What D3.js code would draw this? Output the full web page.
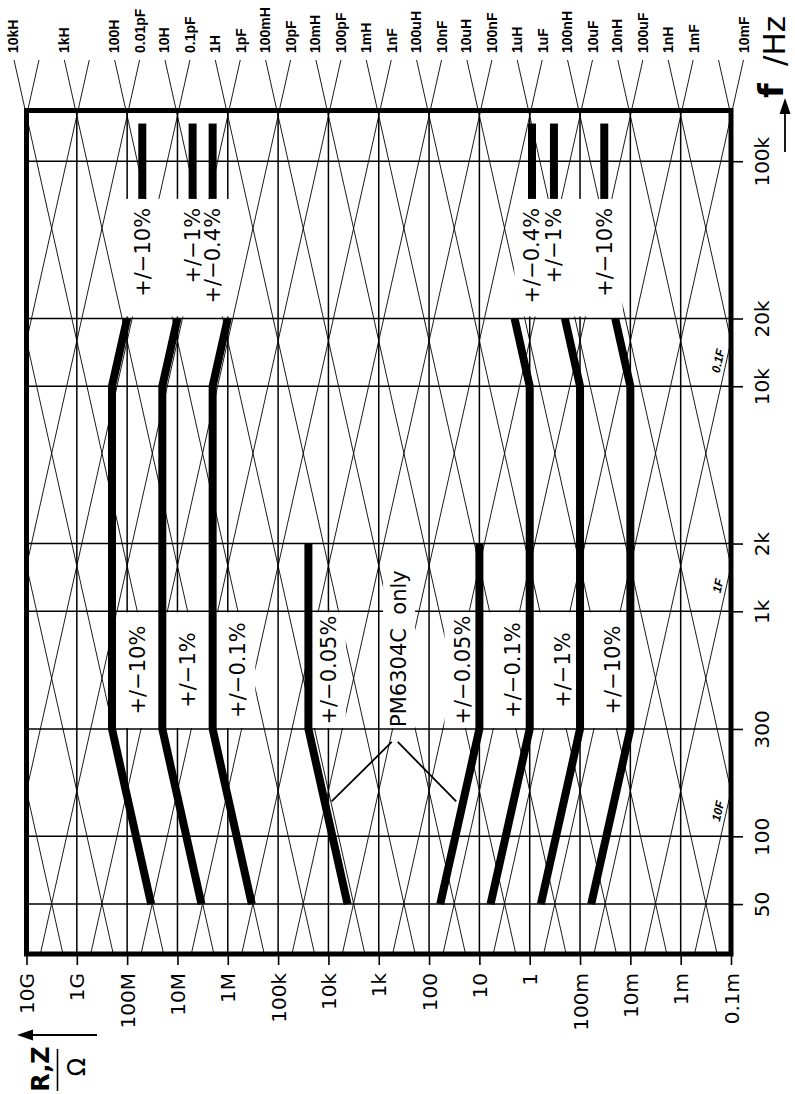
<!DOCTYPE html>
<html>
<head>
<meta charset="utf-8">
<script src="https://cdn.jsdelivr.net/npm/d3@7"></script>
<style>
  body { margin: 0; background: #fff; }
  svg { display: block; font-family: "DejaVu Sans", sans-serif; }
</style>
</head>
<body>
<svg id="chart" width="795" height="1094"></svg>
<script>
// impedance axis (ohm), horizontal, 10G on the left
var zTicks = [1e10, 1e9, 1e8, 1e7, 1e6, 1e5, 1e4, 1e3, 1e2, 1e1, 1, 1e-1, 1e-2, 1e-3, 1e-4];
var zLabels = ["10G", "1G", "100M", "10M", "1M", "100k", "10k", "1k", "100", "10", "1", "100m", "10m", "1m", "0.1m"];

// frequency axis (Hz), vertical, 100k at the top
var fTicks = [50, 100, 300, 1e3, 2e3, 1e4, 2e4, 1e5];
var fLabels = ["50", "100", "300", "1k", "2k", "10k", "20k", "100k"];

// L and C reference lines (H, F)
var gridInductances = [1e7, 1e6, 1e5, 1e4, 1e3, 1e2, 10, 1, 0.1, 1e-2, 1e-3, 1e-4, 1e-5, 1e-6, 1e-7, 1e-8, 1e-9, 1e-10];
var gridCapacitances = [1e-16, 1e-15, 1e-14, 1e-13, 1e-12, 1e-11, 1e-10, 1e-9, 1e-8, 1e-7, 1e-6, 1e-5, 1e-4, 1e-3, 1e-2, 0.1, 1, 10];

var indValues = [1e4, 1e3, 1e2, 10, 1, 0.1, 1e-2, 1e-3, 1e-4, 1e-5, 1e-6, 1e-7, 1e-8, 1e-9];
var indLabels = ["10kH", "1kH", "100H", "10H", "1H", "100mH", "10mH", "1mH", "100uH", "10uH", "1uH", "100nH", "10nH", "1nH"];
var capValues = [1e-14, 1e-13, 1e-12, 1e-11, 1e-10, 1e-9, 1e-8, 1e-7, 1e-6, 1e-5, 1e-4, 1e-3, 1e-2];
var capLabels = ["0.01pF", "0.1pF", "1pF", "10pF", "100pF", "1nF", "10nF", "100nF", "1uF", "10uF", "100uF", "1mF", "10mF"];
var sideCapValues = [0.1, 1, 10];
var sideCapLabels = ["0.1F", "1F", "10F"];

// accuracy limits, [frequency Hz, impedance ohm]
var upper10 = [[50, 33.3e6], [300, 200e6], [1e4, 200e6], [2e4, 100e6]];
var upper1 = [[50, 3.33e6], [300, 20e6], [1e4, 20e6], [2e4, 10e6]];
var upper01 = [[50, 333e3], [300, 2e6], [1e4, 2e6], [2e4, 1e6]];
var upper005 = [[50, 4.17e3], [300, 25e3], [2e3, 25e3]];
var lower005 = [[50, 60], [300, 10], [2e3, 10]];
var lower01 = [[50, 6], [300, 1], [1e4, 1], [2e4, 2]];
var lower1 = [[50, 0.6], [300, 0.1], [1e4, 0.1], [2e4, 0.2]];
var lower10 = [[50, 0.06], [300, 0.01], [1e4, 0.01], [2e4, 0.02]];
var bandLines = [upper10, upper1, upper01, upper005, lower005, lower01, lower1, lower10];

// 100 kHz spot limits
var spotFreq = [68e3, 147e3];
var spotOhms = [50e6, 5e6, 2e6, 0.9, 0.33, 0.033];
var spotLabels = ["+/\u221210%", "+/\u22121%", "+/\u22120.4%", "+/\u22120.4%", "+/\u22121%", "+/\u221210%"];

// labels between 300 Hz and 1 kHz
var midOhms = [63e6, 6.3e6, 630e3, 10e3, 400, 22, 2.2, 0.22, 0.022];
var midLabels = ["+/\u221210%", "+/\u22121%", "+/\u22120.1%", "+/\u22120.05%", "PM6304C  only",
                 "+/\u22120.05%", "+/\u22120.1%", "+/\u22121%", "+/\u221210%"];
var midFreq = 548;
var leaderTargets = [[143, 11.9e3], [143, 21]];

var plot = {left: 26.5, right: 731, top: 110.5, bottom: 954};
var fMin = 30, fMax = 168000;
var twoPi = 2 * Math.PI;
var stripTop = 60;

var xScale = d3.scaleLog().domain([1e10, 1e-4]).range([plot.left, plot.right]);
var yScale = d3.scaleLog().domain([fMin, fMax]).range([plot.bottom, plot.top]);

var svg = d3.select('#chart');

var clip = svg.append('defs').append('clipPath').attr('id', 'diagClip');
clip.append('rect').attr('x', plot.left).attr('y', plot.top)
    .attr('width', plot.right - plot.left).attr('height', plot.bottom - plot.top);
clip.append('rect').attr('x', 0).attr('y', stripTop)
    .attr('width', 745).attr('height', plot.top - stripTop + 1);

var gridLayer = svg.append('g');
var diagLayer = svg.append('g').attr('clip-path', 'url(#diagClip)');
var boxLayer = svg.append('g');
var markLayer = svg.append('g');
var labelLayer = svg.append('g');
var frameLayer = svg.append('g');

// grid
gridLayer.selectAll('.vgrid')
    .data(zTicks.slice(1, -1))
    .enter().append('line')
    .attr('x1', d => xScale(d)).attr('x2', d => xScale(d))
    .attr('y1', plot.top).attr('y2', plot.bottom)
    .attr('stroke', '#000').attr('stroke-width', 1.5);

gridLayer.selectAll('.hgrid')
    .data(fTicks)
    .enter().append('line')
    .attr('x1', plot.left).attr('x2', plot.right)
    .attr('y1', d => yScale(d)).attr('y2', d => yScale(d))
    .attr('stroke', '#000').attr('stroke-width', 1.5);

// L and C lines
var fLow = yScale.invert(plot.bottom + 5);
var fHigh = yScale.invert(stripTop);

diagLayer.selectAll('.ind')
    .data(gridInductances)
    .enter().append('line')
    .attr('x1', L => xScale(twoPi * fLow * L)).attr('y1', yScale(fLow))
    .attr('x2', L => xScale(twoPi * fHigh * L)).attr('y2', yScale(fHigh))
    .attr('stroke', '#000').attr('stroke-width', 0.9);

diagLayer.selectAll('.cap')
    .data(gridCapacitances)
    .enter().append('line')
    .attr('x1', C => xScale(1 / (twoPi * fLow * C))).attr('y1', yScale(fLow))
    .attr('x2', C => xScale(1 / (twoPi * fHigh * C))).attr('y2', yScale(fHigh))
    .attr('stroke', '#000').attr('stroke-width', 0.9);

// top labels of L / C lines
var fLab = yScale.invert(stripTop - 2);
var topLab = svg.append('g')
    .attr('font-size', 14)
    .attr('font-weight', 'bold')
    .attr('font-family', '"Liberation Sans", Arial, sans-serif');
indValues.forEach(function(L, i) {
  topLab.append('text')
      .attr('transform', 'translate(' + xScale(twoPi * fLab * L) + ',' + (stripTop - 7) + ') rotate(-90)')
      .attr('dy', '0.35em')
      .text(indLabels[i]);
});
capValues.forEach(function(C, i) {
  topLab.append('text')
      .attr('transform', 'translate(' + xScale(1 / (twoPi * fLab * C)) + ',' + (stripTop - 7) + ') rotate(-90)')
      .attr('dy', '0.35em')
      .text(capLabels[i]);
});

// side labels for large capacitors
var capAngle = Math.atan2(yScale(1e4) - yScale(1e3), xScale(1 / (twoPi * 1e4)) - xScale(1 / (twoPi * 1e3))) * 180 / Math.PI;
sideCapValues.forEach(function(C, i) {
  var fe = 1 / (twoPi * 1e-4 * C);
  labelLayer.append('text')
      .attr('transform', 'translate(' + (plot.right - 13) + ',' + (yScale(fe) + 20) + ') rotate(' + capAngle + ')')
      .attr('text-anchor', 'middle')
      .attr('dy', '0.35em')
      .attr('font-size', 12)
      .attr('font-weight', 'bold')
      .attr('font-style', 'italic')
      .attr('font-family', '"Liberation Sans", Arial, sans-serif')
      .text(sideCapLabels[i]);
});

// accuracy boundaries
var bandLine = d3.line()
    .x(d => xScale(d[1]))
    .y(d => yScale(d[0]));

markLayer.selectAll('.band')
    .data(bandLines)
    .enter().append('path')
    .attr('d', bandLine)
    .attr('fill', 'none')
    .attr('stroke', '#000')
    .attr('stroke-width', 8)
    .attr('stroke-linejoin', 'round');

markLayer.selectAll('.spot')
    .data(spotOhms)
    .enter().append('line')
    .attr('x1', d => xScale(d)).attr('x2', d => xScale(d))
    .attr('y1', yScale(spotFreq[0])).attr('y2', yScale(spotFreq[1]))
    .attr('stroke', '#000').attr('stroke-width', 8);

// labels
var spotText = labelLayer.selectAll('.spotLabel')
    .data(spotLabels)
    .enter().append('text')
    .attr('transform', (d, i) => 'translate(' + xScale(spotOhms[i]) + ',' + (yScale(spotFreq[0]) + 9) + ') rotate(-90)')
    .attr('text-anchor', 'end')
    .attr('dy', '0.35em')
    .attr('font-size', 21)
    .text(d => d);

var pmIndex = 4;
var midText = labelLayer.selectAll('.midLabel')
    .data(midLabels)
    .enter().append('text')
    .attr('transform', function(d, i) {
      var y = i === pmIndex ? yScale(300) - 2 : yScale(midFreq);
      return 'translate(' + xScale(midOhms[i]) + ',' + y + ') rotate(-90)';
    })
    .attr('text-anchor', (d, i) => i === pmIndex ? 'start' : 'middle')
    .attr('dy', '0.35em')
    .attr('font-size', 21)
    .style('white-space', 'pre')
    .text(d => d);

// leader lines from PM6304C label
var pmX = xScale(midOhms[pmIndex]);
var leaderStartY = yScale(300) + 13;
markLayer.append('line')
    .attr('x1', pmX - 7).attr('y1', leaderStartY)
    .attr('x2', xScale(leaderTargets[0][1]) + 7).attr('y2', yScale(leaderTargets[0][0]))
    .attr('stroke', '#000').attr('stroke-width', 1.8);
markLayer.append('line')
    .attr('x1', pmX - 1).attr('y1', leaderStartY)
    .attr('x2', xScale(leaderTargets[1][1]) - 7).attr('y2', yScale(leaderTargets[1][0]))
    .attr('stroke', '#000').attr('stroke-width', 1.8);

// white boxes behind label groups
var spotNodes = spotText.nodes(), midNodes = midText.nodes();
function unionBox(nodes) {
  var b = nodes.map(n => n.getBoundingClientRect());
  return {
    left: d3.min(b, r => r.left), right: d3.max(b, r => r.right),
    top: d3.min(b, r => r.top), bottom: d3.max(b, r => r.bottom)
  };
}
var band1k = yScale(1e3) + 1, band300 = yScale(300) - 1;
var boxes = [];
[[0, 1, 2], [3, 4, 5]].forEach(function(g) {
  var u = unionBox(g.map(i => spotNodes[i]));
  boxes.push({x0: u.left - 6, x1: u.right + 6, y0: yScale(spotFreq[0]), y1: yScale(2e4) - 2});
});
[[0, 1, 2], [3], [5, 6, 7, 8]].forEach(function(g, k) {
  var u = unionBox(g.map(i => midNodes[i]));
  var pad = k === 0 ? 9 : 6;
  boxes.push({x0: u.left - pad, x1: u.right + 5, y0: band1k, y1: band300});
});
(function() {
  var u = unionBox([midNodes[pmIndex]]);
  boxes.push({x0: u.left - 4, x1: u.right + 4, y0: u.top - 4, y1: band300});
})();

boxLayer.selectAll('rect')
    .data(boxes)
    .enter().append('rect')
    .attr('x', d => d.x0).attr('y', d => d.y0)
    .attr('width', d => d.x1 - d.x0).attr('height', d => d.y1 - d.y0)
    .attr('fill', '#fff');

// frame and axes
frameLayer.append('rect')
    .attr('x', plot.left).attr('y', plot.top)
    .attr('width', plot.right - plot.left).attr('height', plot.bottom - plot.top)
    .attr('fill', 'none').attr('stroke', '#000').attr('stroke-width', 5);

var xAxis = frameLayer.append('g')
    .attr('transform', 'translate(0,' + plot.bottom + ')')
    .call(d3.axisBottom(xScale).tickValues(zTicks).tickFormat((d, i) => zLabels[i]).tickSize(11));
xAxis.select('.domain').remove();
xAxis.selectAll('line').attr('stroke-width', 1.6);
xAxis.selectAll('text')
    .attr('transform', 'rotate(-90)')
    .attr('x', -19).attr('y', 0).attr('dy', '0.35em')
    .attr('text-anchor', 'end')
    .attr('font-size', 20)
    .attr('font-family', '"DejaVu Sans", sans-serif');

var yAxis = frameLayer.append('g')
    .attr('transform', 'translate(' + plot.right + ',0)')
    .call(d3.axisRight(yScale).tickValues(fTicks).tickFormat((d, i) => fLabels[i]).tickSize(12));
yAxis.select('.domain').remove();
yAxis.selectAll('line').attr('stroke-width', 1.6);
yAxis.selectAll('text')
    .attr('transform', 'rotate(-90)')
    .attr('x', 0).attr('y', 31).attr('dy', '0.35em')
    .attr('text-anchor', 'middle')
    .attr('font-size', 20)
    .attr('font-family', '"DejaVu Sans", sans-serif');

// axis titles
var title = svg.append('g');
title.append('text')
    .attr('transform', 'translate(783,98) rotate(-90)')
    .attr('font-size', 34).attr('font-weight', 'bold')
    .text('f');
title.append('text')
    .attr('transform', 'translate(785,66) rotate(-90)')
    .attr('font-size', 31)
    .text('/Hz');
title.append('line')
    .attr('x1', 785).attr('y1', 152).attr('x2', 785).attr('y2', 110)
    .attr('stroke', '#000').attr('stroke-width', 1.8);
title.append('path')
    .attr('d', 'M785,98 L779.5,114 L790.5,114 Z')
    .attr('fill', '#000');

title.append('line')
    .attr('x1', 97).attr('y1', 1035).attr('x2', 28).attr('y2', 1035)
    .attr('stroke', '#000').attr('stroke-width', 1.8);
title.append('path')
    .attr('d', 'M17,1035 L33,1029.5 L33,1040.5 Z')
    .attr('fill', '#000');
title.append('text')
    .attr('transform', 'translate(49,1069) rotate(-90)')
    .attr('text-anchor', 'middle')
    .attr('font-size', 24).attr('font-weight', 'bold')
    .text('R,Z');
title.append('line')
    .attr('x1', 57.5).attr('y1', 1049).attr('x2', 57.5).attr('y2', 1091)
    .attr('stroke', '#000').attr('stroke-width', 1.6);
title.append('text')
    .attr('transform', 'translate(85,1067) rotate(-90)')
    .attr('text-anchor', 'middle')
    .attr('font-size', 24)
    .text('\u03a9');
</script>
</body>
</html>
